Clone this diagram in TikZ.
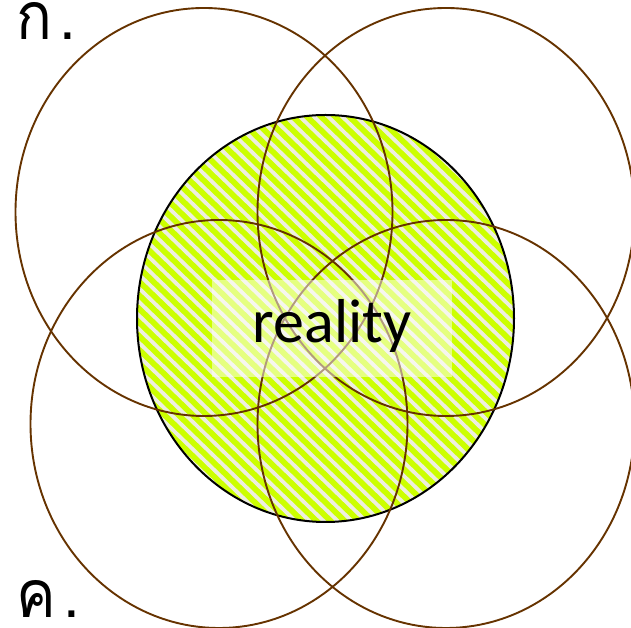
\documentclass[tikz,border=0pt]{standalone}
\usepackage{fontspec}
\usetikzlibrary{shapes.geometric}
\setmainfont{Carlito}
\newfontfamily\thaifont[Script=Thai]{Loma}
\definecolor{brn}{HTML}{663300}
\definecolor{lime}{HTML}{CCFF00}
\definecolor{stripe}{HTML}{EEEEE0}
\begin{document}
\begin{tikzpicture}[x=1pt,y=1pt,
  ring/.style={draw=brn,line width=1.9pt,ellipse,inner sep=0pt,minimum width=377pt,minimum height=408pt},
  core/.style={draw=black,line width=2pt},
  thai/.style={anchor=base west,inner sep=0pt,text depth=0pt,xscale=0.9,transform shape,font=\thaifont\fontsize{66}{70}\selectfont}]
\useasboundingbox (0,0) rectangle (631,628);
% central hatched ellipse
\begin{scope}
  \clip (325.5,309.5) ellipse [x radius=188.5,y radius=203.5];
  \fill[lime] (100,80) rectangle (550,540);
  \begin{scope}[shift={(325.5,309.5)},rotate=-44]
    \foreach \k in {-32,...,32}{
      \draw[stripe,line width=3.8pt] (-400,\k*9.8) -- (400,\k*9.8);
    }
  \end{scope}
\end{scope}
\node[core,ellipse,minimum width=377pt,minimum height=407pt,inner sep=0pt] (core) at (325.5,309.5) {};
% four rings
\node[ring] (tl) at (204,416) {};
\node[ring] (tr) at (446,416) {};
\node[ring] (bl) at (219,204) {};
\node[ring] (br) at (446,204) {};
% label box
\fill[white,fill opacity=0.5] (212,251) rectangle (452,348);
\node[anchor=base,inner sep=0pt,font=\fontsize{62}{66}\selectfont] (lbl) at (332,285) {reality};
\node[thai] (ka) at (16,588) {ก\kern8pt.};
\node[thai] (kho) at (16,10) {ค\kern8pt.};
\end{tikzpicture}
\end{document}
